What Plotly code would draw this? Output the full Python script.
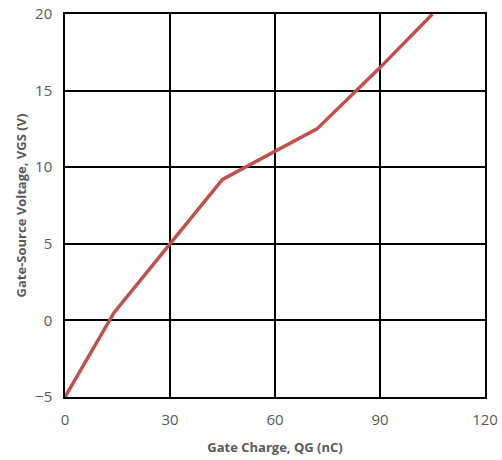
import plotly.graph_objects as go

gate_charge_nc = [0, 14, 30, 45, 72, 90, 105]
vgs_v = [-5, 0.5, 5.0, 9.2, 12.5, 16.5, 20]

x_ticks = [0, 30, 60, 90, 120]
y_ticks = [-5, 0, 5, 10, 15, 20]

fig = go.Figure()
fig.add_trace(go.Scatter(
    x=gate_charge_nc, y=vgs_v, mode="lines",
    line=dict(color="#C0504D", width=3.5),
    showlegend=False, hoverinfo="skip",
))

font_family = "Open Sans, Liberation Sans, sans-serif"
axis_common = dict(
    showgrid=True, gridcolor="black", gridwidth=1.5,
    showline=True, linecolor="black", linewidth=1.5, mirror=True,
    zeroline=False, ticks="", automargin=False,
    tickfont=dict(family=font_family, size=15, color="#595959"),
)

fig.update_layout(
    width=502, height=460,
    margin=dict(l=65, r=17, t=14, b=63),
    paper_bgcolor="white", plot_bgcolor="white",
    xaxis=dict(
        range=[0, 120], tickvals=x_ticks,
        title=dict(text="<b>Gate Charge, QG (nC)</b>", standoff=15,
                   font=dict(family=font_family, size=13, color="#595959")),
        ticklabelstandoff=8,
        **axis_common,
    ),
    yaxis=dict(
        range=[-5, 20], tickvals=y_ticks,
        title=dict(text="<b>Gate-Source Voltage, VGS (V)</b>", standoff=6,
                   font=dict(family=font_family, size=13, color="#595959")),
        ticklabelstandoff=8,
        **axis_common,
    ),
)

fig.write_html("out.html")
